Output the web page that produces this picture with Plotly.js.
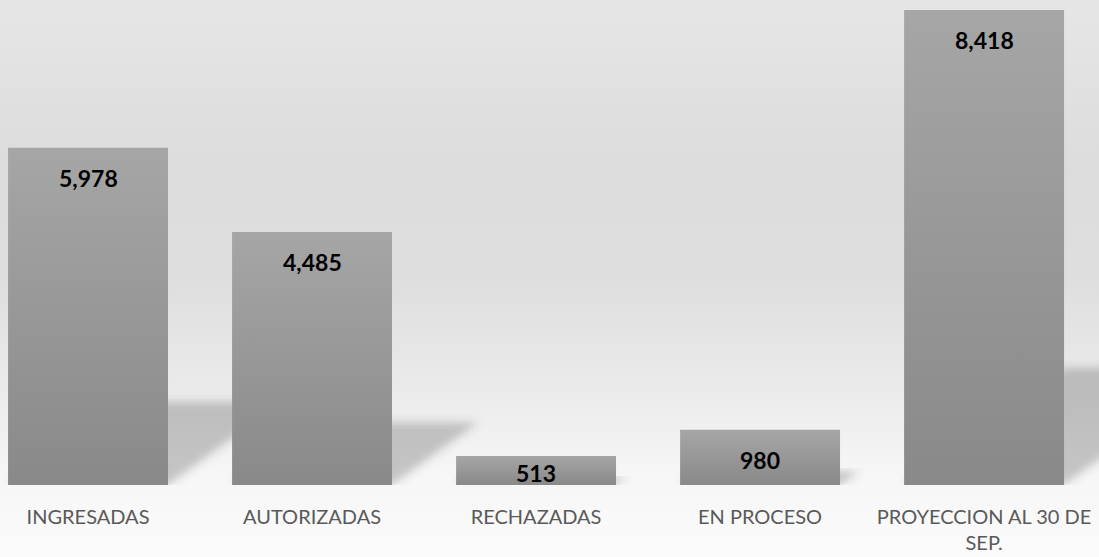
<!DOCTYPE html>
<html>
<head>
<meta charset="utf-8">
<script src="https://cdn.plot.ly/plotly-3.0.1.min.js"></script>
<style>
  html, body { margin: 0; padding: 0; }
  #chart {
    width: 1099px; height: 557px;
    background: linear-gradient(to bottom, #e6e6e6 0%, #dcdcdc 30%, #dedede 50%, #ececec 72%, #f6f6f6 85%, #fbfbfb 100%);
  }
</style>
</head>
<body>
<div id="chart"></div>
<script>
const categories = ["INGRESADAS", "AUTORIZADAS", "RECHAZADAS", "EN PROCESO", "PROYECCION AL 30 DE<br>SEP."];
const values = [5978, 4485, 513, 980, 8418];

const W = 1099, H = 557;
const marginB = 72;
const plotH = H - marginB;
const yMax = 8595;
const xRange = [-0.393, 4.513];
const pxPerY = plotH / yMax;
const pxPerX = W / (xRange[1] - xRange[0]);
const halfW = 0.357;

const idx = values.map((v, i) => i);

// perspective shadows derived from the values
const shapes = values.map((v, i) => {
  const dy = 0.247 * v;
  const dx = 0.34 * v * pxPerY / pxPerX;
  const x0 = i - halfW, x1 = i + halfW;
  return {
    type: 'path', xref: 'x', yref: 'y', layer: 'below',
    path: `M ${x0},0 L ${x1},0 L ${x1 + dx},${dy} L ${x0 + dx},${dy} Z`,
    fillcolor: 'rgba(70,70,70,0.28)', line: { width: 0 }
  };
});

const annotations = values.map((v, i) => {
  const hPx = v * pxPerY;
  const off = Math.min(30, hPx - 12);
  return {
    x: i, y: v, xref: 'x', yref: 'y', yanchor: 'middle', yshift: -off,
    text: v.toLocaleString('en-US'), showarrow: false,
    font: { family: 'Lato', size: 23, color: '#000000', weight: 'bold' }
  };
});

const trace = {
  type: 'bar', x: idx, y: values, width: 2 * halfW,
  marker: { color: '#979797', line: { width: 0 } },
  hoverinfo: 'none', textposition: 'none'
};

const layout = {
  width: W, height: H,
  margin: { l: 0, r: 0, t: 0, b: marginB, pad: 0 },
  paper_bgcolor: 'rgba(0,0,0,0)', plot_bgcolor: 'rgba(0,0,0,0)',
  showlegend: false,
  xaxis: {
    range: xRange, tickvals: idx, ticktext: categories,
    showgrid: false, zeroline: false, showline: false, ticks: '',
    ticklabelstandoff: 18,
    tickfont: { family: 'Lato', size: 20, color: '#595959' },
    fixedrange: true
  },
  yaxis: { range: [0, yMax], visible: false, fixedrange: true },
  shapes: shapes,
  annotations: annotations
};

Plotly.newPlot('chart', [trace], layout, { displayModeBar: false, staticPlot: true }).then(gd => {
  const svg = gd.querySelector('svg.main-svg');
  const ns = 'http://www.w3.org/2000/svg';
  let defs = svg.querySelector('defs');
  if (!defs) { defs = document.createElementNS(ns, 'defs'); svg.insertBefore(defs, svg.firstChild); }
  const grad = document.createElementNS(ns, 'linearGradient');
  grad.setAttribute('id', 'barGrad');
  grad.setAttribute('x1', '0'); grad.setAttribute('y1', '0');
  grad.setAttribute('x2', '0'); grad.setAttribute('y2', '1');
  [['0%', '#a6a6a6'], ['100%', '#898989']].forEach(([o, c]) => {
    const s = document.createElementNS(ns, 'stop');
    s.setAttribute('offset', o); s.setAttribute('stop-color', c);
    grad.appendChild(s);
  });
  defs.appendChild(grad);
  const filt = document.createElementNS(ns, 'filter');
  filt.setAttribute('id', 'shBlur');
  filt.setAttribute('x', '-20%'); filt.setAttribute('y', '-20%');
  filt.setAttribute('width', '140%'); filt.setAttribute('height', '140%');
  const blur = document.createElementNS(ns, 'feGaussianBlur');
  blur.setAttribute('stdDeviation', '4');
  filt.appendChild(blur);
  defs.appendChild(filt);
  gd.querySelectorAll('.bars path').forEach(p => { p.style.fill = 'url(#barGrad)'; });
  gd.querySelectorAll('.shapelayer path').forEach(p => { p.setAttribute('filter', 'url(#shBlur)'); });
});
</script>
</body>
</html>
